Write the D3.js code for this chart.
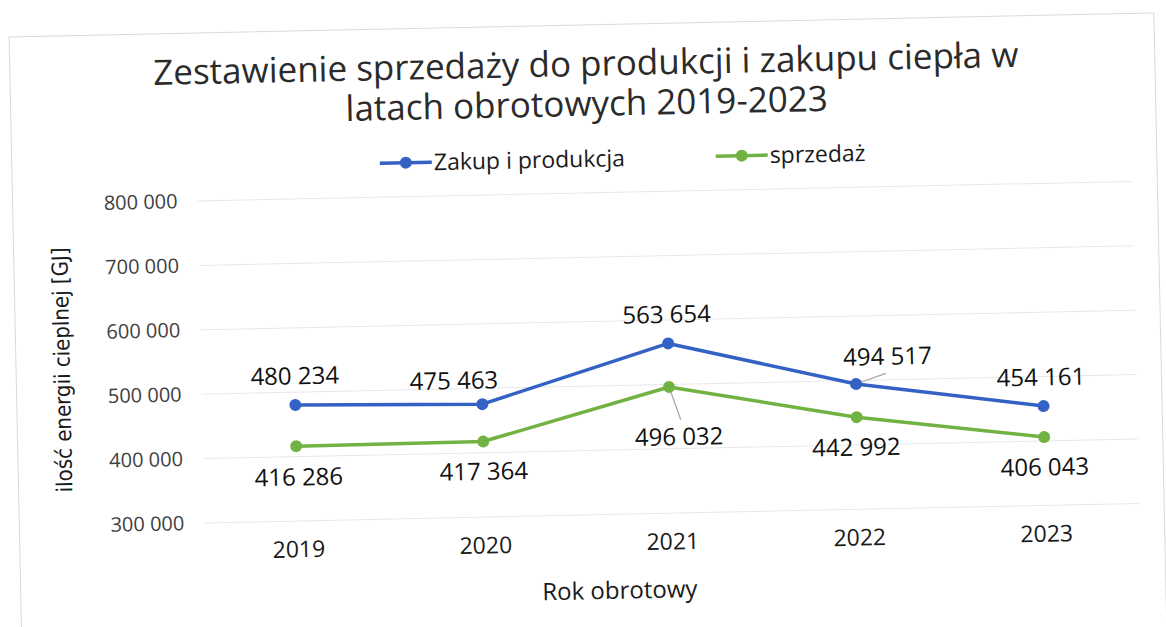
<!DOCTYPE html>
<html>
<head>
<meta charset="utf-8">
<script src="https://cdn.jsdelivr.net/npm/d3@7"></script>
<style>
  body { margin: 0; background: #fff; }
  svg { display: block; }
</style>
</head>
<body>
<svg width="1166" height="627"></svg>
<script>
// chart values
var years = ["2019", "2020", "2021", "2022", "2023"];
var zakup = [480234, 475463, 563654, 494517, 454161];
var sprzedaz = [416286, 417364, 496032, 442992, 406043];
var yTicks = [300000, 400000, 500000, 600000, 700000, 800000];
var seriesNames = ["Zakup i produkcja", "sprzedaż"];
var titleLines = ["Zestawienie sprzedaży do produkcji i zakupu ciepła w", "latach obrotowych 2019-2023"];

// where each data label sits relative to its point (the source chart had some moved by hand)
var zakupLabelShift = [[0, -29], [-28, -24], [-1, -29], [32, -27], [-2, -29]];
var sprzedazLabelShift = [[2, 31], [0, 30], [9, 50], [-1, 30], [0, 30]];
var zakupLeader = [null, null, null, [30, -10], null];
var sprzedazLeader = [null, null, [11, 33], null, null];

var font = '"Open Sans", "DejaVu Sans", sans-serif';
var narrowFont = '"Liberation Sans Narrow", "DejaVu Sans Condensed", "Open Sans", sans-serif';
var blue = "#3462c4", green = "#72b243";

var pl = d3.formatLocale({ decimal: ",", thousands: " ", grouping: [3], currency: ["", " zł"] });
var fmt = pl.format(",d");

var svg = d3.select("svg");
// the printed chart was scanned slightly tilted
var g = svg.append("g").attr("transform", "rotate(-1.2, 583, 313)");

// chart frame
g.append("rect")
  .attr("x", 15).attr("y", 25).attr("width", 1145).attr("height", 640)
  .attr("fill", "none").attr("stroke", "#dadada").attr("stroke-width", 1);

var margin = { left: 200, right: 1135, top: 193, bottom: 515 };

var x = d3.scalePoint().domain(years).range([margin.left, margin.right]).padding(0.5);
var y = d3.scaleLinear().domain([300000, 800000]).range([margin.bottom, margin.top]);

// gridlines
g.append("g").selectAll("line")
  .data(yTicks).enter().append("line")
  .attr("x1", margin.left).attr("x2", margin.right)
  .attr("y1", function(d) { return y(d); }).attr("y2", function(d) { return y(d); })
  .attr("stroke", "#e8e8e8").attr("stroke-width", 1);

// y axis
var yAxis = d3.axisLeft(y).tickValues(yTicks).tickFormat(fmt).tickSize(0).tickPadding(20);
var ya = g.append("g").attr("transform", "translate(" + margin.left + ",0)").call(yAxis);
ya.select(".domain").remove();
ya.selectAll("text").attr("font-family", font).attr("font-size", 20).attr("fill", "#404040");

// x axis
var xAxis = d3.axisBottom(x).tickSize(0).tickPadding(20);
var xa = g.append("g").attr("transform", "translate(0," + margin.bottom + ")").call(xAxis);
xa.select(".domain").remove();
xa.selectAll("text").attr("font-family", font).attr("font-size", 23).attr("fill", "#1a1a1a");

// titles
g.append("text").selectAll("tspan")
  .data(titleLines).enter().append("tspan")
  .attr("x", 591).attr("y", function(d, i) { return 76 + i * 40; })
  .attr("text-anchor", "middle")
  .attr("font-family", font).attr("font-size", 35).attr("fill", "#2b2b2b")
  .text(function(d) { return d; });

g.append("text")
  .attr("transform", "translate(61,359) rotate(-90)")
  .attr("text-anchor", "middle").attr("dy", "0.35em")
  .attr("font-family", narrowFont).attr("font-size", 22).attr("fill", "#1a1a1a")
  .text("ilość energii cieplnej [GJ]");

g.append("text")
  .attr("x", 614).attr("y", 591).attr("dy", "0.35em")
  .attr("text-anchor", "middle")
  .attr("font-family", font).attr("font-size", 24).attr("fill", "#1a1a1a")
  .text("Rok obrotowy");

// series
var series = [
  { name: seriesNames[0], values: zakup, color: blue, shift: zakupLabelShift, leader: zakupLeader },
  { name: seriesNames[1], values: sprzedaz, color: green, shift: sprzedazLabelShift, leader: sprzedazLeader }
];

var line = d3.line()
  .x(function(d, i) { return x(years[i]); })
  .y(function(d) { return y(d); });

series.forEach(function(s) {
  var sg = g.append("g");

  // leader lines go under the markers
  s.values.forEach(function(v, i) {
    if (!s.leader[i]) return;
    sg.append("line")
      .attr("x1", x(years[i])).attr("y1", y(v))
      .attr("x2", x(years[i]) + s.leader[i][0]).attr("y2", y(v) + s.leader[i][1])
      .attr("stroke", "#a6a6a6").attr("stroke-width", 1.2);
  });

  sg.append("path")
    .attr("d", line(s.values))
    .attr("fill", "none")
    .attr("stroke", s.color)
    .attr("stroke-width", 3.5)
    .attr("stroke-linejoin", "round");

  sg.selectAll("circle")
    .data(s.values).enter().append("circle")
    .attr("cx", function(d, i) { return x(years[i]); })
    .attr("cy", function(d) { return y(d); })
    .attr("r", 6)
    .attr("fill", s.color);

  sg.selectAll("text")
    .data(s.values).enter().append("text")
    .attr("x", function(d, i) { return x(years[i]) + s.shift[i][0]; })
    .attr("y", function(d, i) { return y(d) + s.shift[i][1]; })
    .attr("dy", "0.35em")
    .attr("text-anchor", "middle")
    .attr("font-family", font).attr("font-size", 24).attr("fill", "#111")
    .text(function(d) { return fmt(d); });
});

// legend
var legendItems = [
  { name: seriesNames[0], color: blue, x: 383 },
  { name: seriesNames[1], color: green, x: 719 }
];
var lg = g.append("g").attr("transform", "translate(0,159)");
legendItems.forEach(function(it) {
  lg.append("line")
    .attr("x1", it.x).attr("x2", it.x + 52)
    .attr("stroke", it.color).attr("stroke-width", 3.5);
  lg.append("circle")
    .attr("cx", it.x + 26).attr("r", 6).attr("fill", it.color);
  lg.append("text")
    .attr("x", it.x + 54).attr("dy", "0.35em")
    .attr("font-family", font).attr("font-size", 23).attr("fill", "#1a1a1a")
    .text(it.name);
});
</script>
</body>
</html>
